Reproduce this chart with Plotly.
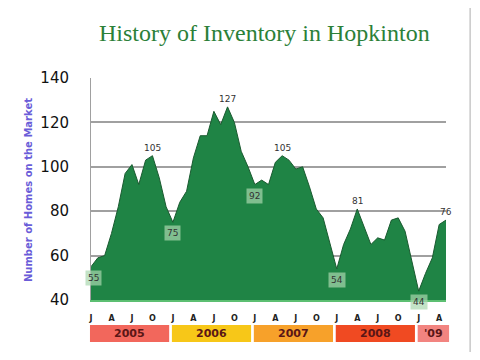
import plotly.graph_objects as go

# ---- data (monthly, Jan 2005 .. May 2009) ----
inventory = [
    55, 59, 60, 70, 82, 97, 101, 92, 103, 105, 95, 82,      # 2005
    75, 84, 89, 104, 114, 114, 125, 119, 127, 120, 107, 100,  # 2006
    92, 94, 92, 102, 105, 103, 99, 100, 91, 81, 77, 65,      # 2007
    54, 65, 72, 81, 73, 65, 68, 67, 76, 77, 71, 58,          # 2008
    44, 52, 59, 74, 76,                                      # 2009
]
month_letters = ["J", "A", "J", "O"]
year_labels = ["2005", "2006", "2007", "2008", "'09"]
year_months = [12, 12, 12, 12, 5]
year_colors = ["#f2675c", "#f7c718", "#f7a12a", "#f04a22", "#f28480"]
peak_idx = [9, 20, 28, 39, 52]
trough_idx = [0, 12, 24, 36, 48]
y_ticks = [40, 60, 80, 100, 120, 140]

x = list(range(len(inventory)))
n_last = len(inventory) - 1

fig = go.Figure()
fig.add_trace(go.Scatter(
    x=x, y=inventory, mode="lines", fill="tozeroy",
    fillcolor="#1f8445", line=dict(color="#1a5a30", width=1),
    hoverinfo="skip", showlegend=False,
))

tickvals = list(range(0, len(inventory), 3))
ticktext = ["<b>%s</b>" % month_letters[(v // 3) % 4] for v in tickvals]

fig.update_layout(
    width=464, height=344,
    margin=dict(l=83, r=26, t=70, b=52),
    paper_bgcolor="white", plot_bgcolor="white",
    showlegend=False,
    xaxis=dict(
        range=[0, n_last], tickvals=tickvals, ticktext=ticktext,
        showgrid=False, zeroline=False,
        showline=True, linecolor="#5cbf72", linewidth=2,
        ticks="outside", ticklen=9, tickcolor="rgba(0,0,0,0)",
        tickfont=dict(family="DejaVu Sans", size=8, color="#222"),
    ),
    yaxis=dict(
        range=[40, 140], tickvals=y_ticks,
        showgrid=True, gridcolor="#a0a0a0", gridwidth=1.5,
        zeroline=False, showline=True, linecolor="#a0a0a0", linewidth=1,
        ticks="outside", ticklen=18, tickcolor="rgba(0,0,0,0)",
        tickfont=dict(family="DejaVu Sans", size=15, color="#111"),
    ),
)

ann = []
# title
ann.append(dict(
    text="History of Inventory in Hopkinton", xref="paper", yref="paper",
    x=0.49, y=1.2027, xanchor="center", yanchor="middle", showarrow=False,
    font=dict(family="Liberation Serif", size=24, color="#2b8038"),
))
# y axis title
ann.append(dict(
    text="<b>Number of Homes on the Market</b>", xref="paper", yref="paper",
    x=-0.1775, y=0.495, xanchor="center", yanchor="middle", showarrow=False,
    textangle=-90, font=dict(family="DejaVu Sans", size=10, color="#6a5cd8"),
))
# peak labels
for i in peak_idx:
    ann.append(dict(
        text=str(inventory[i]), x=i, y=inventory[i], xref="x", yref="y",
        showarrow=False, yanchor="bottom", yshift=1,
        font=dict(family="DejaVu Sans", size=9, color="#333"),
    ))
# trough labels
for i in trough_idx:
    ann.append(dict(
        text=str(inventory[i]), x=i, y=inventory[i], xref="x", yref="y",
        showarrow=False, yanchor="top", yshift=-3, xshift=2 if i == 0 else 0,
        bgcolor="rgba(170,215,175,0.7)", borderpad=2,
        font=dict(family="DejaVu Sans", size=9, color="#333"),
    ))

# year bars
shapes = []
start = 0
span = float(n_last)
for lab, n, col in zip(year_labels, year_months, year_colors):
    x0 = (start - 0.15) / span
    x1 = (start + n - 0.55) / span
    shapes.append(dict(
        type="rect", xref="paper", yref="paper", x0=x0, x1=x1,
        y0=-0.189, y1=-0.1126, fillcolor=col, line=dict(width=0), layer="above",
    ))
    ann.append(dict(
        text="<b>%s</b>" % lab, xref="paper", yref="paper",
        x=(x0 + x1) / 2, y=(-0.189 - 0.1126) / 2, xanchor="center", yanchor="middle",
        showarrow=False, font=dict(family="DejaVu Sans", size=11, color="#5a1616"),
    ))
    start += n

# right frame line
shapes.append(dict(
    type="line", xref="paper", yref="paper", x0=1.068, x1=1.068, y0=-0.24, y1=1.32,
    line=dict(color="#c8c8c8", width=1.5),
))

fig.update_layout(annotations=ann, shapes=shapes)
fig.write_html("out.html")
